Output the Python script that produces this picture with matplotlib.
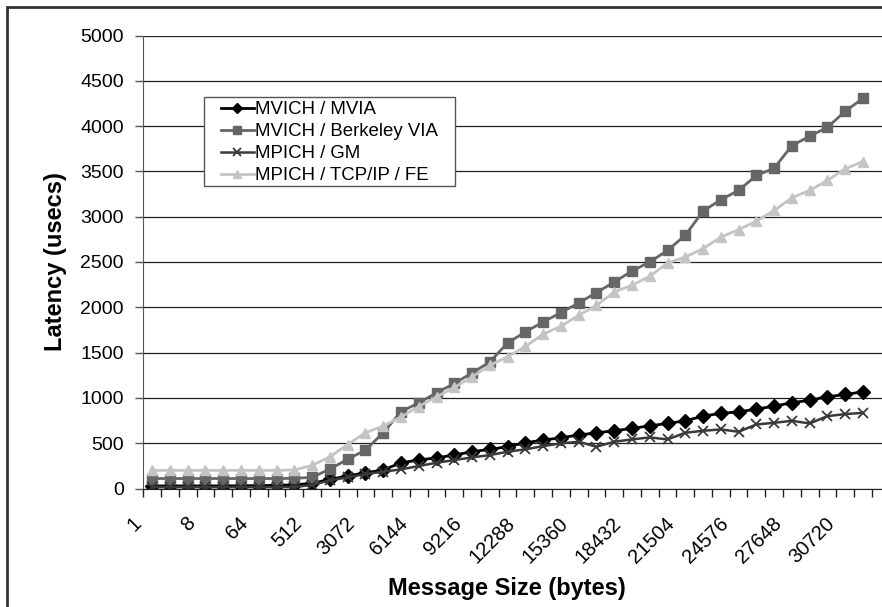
import matplotlib
matplotlib.use("Agg")
import matplotlib.pyplot as plt
import matplotlib.transforms as mtransforms
from matplotlib.patches import Rectangle
import numpy as np

plt.rcParams["font.family"] = ["Liberation Sans", "DejaVu Sans"]

# message sizes (bytes): powers of two up to 1024, then 1024-byte steps
sizes = [1, 2, 4, 8, 16, 32, 64, 128, 256, 512, 1024, 2048] + \
    [3072 + 1024 * k for k in range(29)]
tick_labels = ["1", "8", "64", "512", "3072", "6144", "9216", "12288",
               "15360", "18432", "21504", "24576", "27648", "30720"]

mvich_mvia = [28, 28, 28, 29, 29, 30, 32, 35, 40, 57, 101, 138, 174, 204,
              284, 314, 339, 369, 406, 432, 461, 505, 534, 560, 590, 615,
              637, 663, 692, 718, 747, 799, 829, 846, 876, 909, 946, 975,
              1012, 1038, 1067]
mvich_bvia = [110, 110, 110, 110, 110, 110, 110, 110, 112, 123, 215, 322,
              424, 615, 846, 946, 1056, 1159, 1276, 1397, 1607, 1728, 1838,
              1941, 2048, 2162, 2279, 2400, 2500, 2628, 2794, 3062, 3187,
              3290, 3455, 3535, 3785, 3888, 3987, 4163, 4307]
mpich_gm = [15, 15, 15, 15, 15, 15, 15, 15, 17, 39, 90, 123, 160, 185, 211,
            248, 284, 314, 343, 369, 406, 432, 468, 498, 516, 461, 516, 542,
            564, 542, 615, 637, 652, 626, 707, 725, 747, 718, 799, 821, 835]
mpich_tcp = [200, 200, 200, 200, 200, 200, 200, 200, 205, 255, 350, 485,
             615, 690, 790, 905, 1012, 1115, 1232, 1361, 1453, 1568, 1703,
             1791, 1912, 2022, 2169, 2243, 2342, 2489, 2555, 2647, 2775,
             2856, 2951, 3069, 3209, 3290, 3400, 3529, 3609]

W, H = 882, 607
fig = plt.figure(figsize=(W / 100, H / 100), dpi=100)
fig.patch.set_facecolor("white")

step = 17.77
left_px, bottom_px, top_px = 143.3, 488.5, 35.5
n_slots = len(sizes) + 1
ax = fig.add_axes([left_px / W, 1 - bottom_px / H,
                   n_slots * step / W, (bottom_px - top_px) / H])

x = np.arange(len(sizes))
ax.plot(x, mvich_mvia, color="black", lw=2, marker="D", ms=6.8,
        label="MVICH / MVIA")
ax.plot(x, mvich_bvia, color="#666666", lw=2, marker="s", ms=7.5,
        label="MVICH / Berkeley VIA")
ax.plot(x, mpich_gm, color="#3a3a3a", lw=1.8, marker="x", ms=7, mew=1.3,
        label="MPICH / GM")
ax.plot(x, mpich_tcp, color="#c4c4c4", lw=2, marker="^", ms=7.2,
        label="MPICH / TCP/IP / FE")

ax.set_xlim(-0.5, n_slots - 0.5)
ax.set_ylim(0, 5000)
ax.set_yticks(np.arange(0, 5001, 500))
ax.yaxis.grid(True, color="#202020", lw=0.9)
ax.set_axisbelow(True)

for side in ("top", "right"):
    ax.spines[side].set_visible(False)
ax.spines["left"].set_color("#555555")
ax.spines["bottom"].set_color("#202020")
ax.tick_params(axis="y", direction="out", length=6, width=1,
               color="#555555", labelsize=14, pad=8)

# category boundaries carry the tick marks, labels every third category
ax.set_xticks(np.arange(-0.5, n_slots, 1), minor=True)
ax.set_xticks(np.arange(0, len(sizes), 3))
ax.set_xticklabels(tick_labels, rotation=45, ha="right", va="center",
                   rotation_mode="anchor", fontsize=14.5)
ax.tick_params(axis="x", which="major", length=0, pad=23)
ax.tick_params(axis="x", which="minor", direction="out", length=6,
               width=1, color="#202020")
shift = mtransforms.ScaledTranslation(-9.7 / 72, 0, fig.dpi_scale_trans)
for lbl in ax.get_xticklabels():
    lbl.set_transform(lbl.get_transform() + shift)

ax.set_ylabel("Latency (usecs)", fontsize=17, fontweight="bold")
ax.yaxis.set_label_coords(-0.102, 0.5)
fig.text(507 / W, 1 - 595 / H, "Message Size (bytes)", fontsize=17,
         fontweight="bold", ha="center", va="baseline")

# legend: white box drawn by hand so the left inset matches
box_l, box_t, box_r, box_b = 204, 96.7, 455, 185.7
fig.add_artist(Rectangle((box_l / W, 1 - box_b / H), (box_r - box_l) / W,
                         (box_b - box_t) / H, transform=fig.transFigure,
                         facecolor="white", edgecolor="#555555", lw=1,
                         zorder=5))
leg = fig.legend(*ax.get_legend_handles_labels(), loc="upper left",
                 bbox_to_anchor=(221 / W, 1 - 101 / H), borderaxespad=0,
                 borderpad=0.0, fontsize=13.4, frameon=False,
                 handlelength=1.75, handletextpad=0.1, labelspacing=0.27,
                 markerscale=0.8)
leg.set_zorder(6)

# outer chart border (cut off on right and bottom)
fig.add_artist(Rectangle((7 / W, -0.1), 1.2, 1.1 - 7 / H,
                         transform=fig.transFigure, fill=False,
                         ec="#333333", lw=2))

fig.savefig("out.png", dpi=100)
